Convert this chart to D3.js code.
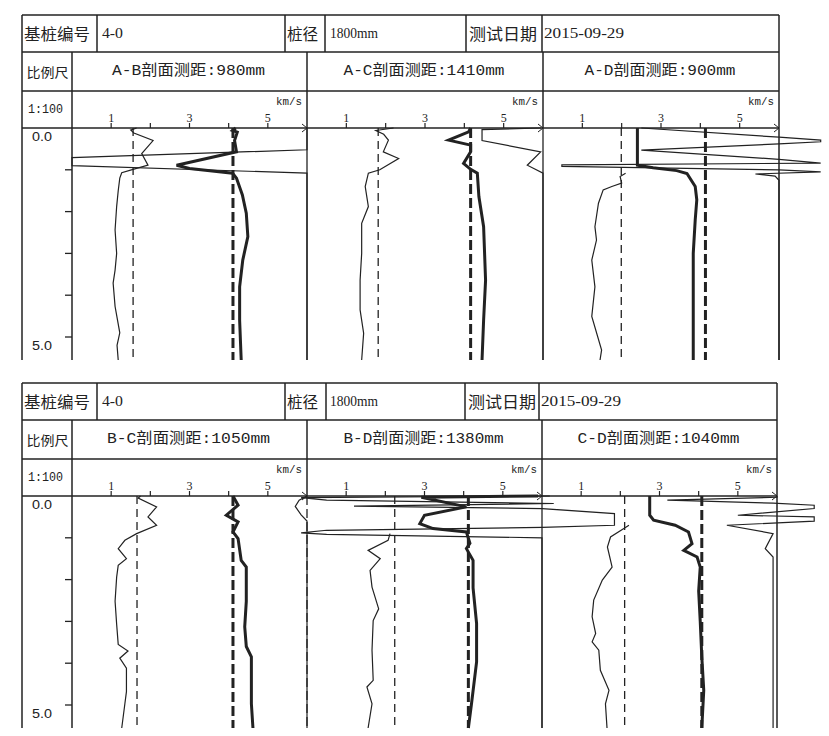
<!DOCTYPE html>
<html><head><meta charset="utf-8">
<script src="https://cdn.jsdelivr.net/npm/d3@7"></script>
<style>body{margin:0;background:#fff}svg{display:block}</style>
</head><body><svg id="c" width="829" height="736"></svg>
<script>
// ---------- data ----------
const headerLabels = ["基桩编号", "4-0", "桩径", "1800mm", "测试日期", "2015-09-29"];
const scaleLabels = ["比例尺", "1:100"];
const unitLabel = "km/s";
const panelTitles = [
  ["A-B剖面测距:980mm", "A-C剖面测距:1410mm", "A-D剖面测距:900mm"],
  ["B-C剖面测距:1050mm", "B-D剖面测距:1380mm", "C-D剖面测距:1040mm"]
];
const xTicks = [1, 2, 3, 4, 5];
const xTickLabels = ["1", "", "3", "", "5"];
const depthTicks = [0, 1, 2, 3, 4, 5];
const depthLabels = {0: "0.0", 5: "5.0"};

// critical values (km/s scale) per panel
const ampCrit = [1.56, 1.81, 1.99, 1.66, 2.24, 2.11];
const velCrit = [4.11, 4.16, 4.13, 4.11, 4.12, 4.08];

// [depth m, value]
const ampAB = [[0,1.65],[0.05,1.5],[0.12,1.58],[0.3,2.07],[0.61,1.78],[0.89,1.94],[0.99,1.56],[1.07,1.27],[1.2,1.22],[1.5,1.18],[1.88,1.14],[2.44,1.1],[3.0,1.14],[3.4,1.1],[3.71,1.05],[4.27,1.1],[4.9,1.22],[5.2,1.15],[5.55,1.18]];
const velAB = [[0,4.18],[0.06,4.1],[0.1,4.22],[0.3,4.15],[0.57,4.2],[0.89,2.67],[0.97,3.0],[1.08,4.1],[1.2,4.2],[1.6,4.35],[2.04,4.45],[2.6,4.49],[3.16,4.36],[3.8,4.28],[4.6,4.28],[5.55,4.32]];
const psdAB = [[0,6],[0.52,6],[0.71,0],[0.9,0],[1.08,6],[5.55,6]];

const ampAC = [[0,2.2],[0.06,1.75],[0.15,1.95],[0.29,2.07],[0.57,1.94],[0.73,2.33],[1.0,1.85],[1.08,1.56],[1.4,1.48],[1.88,1.56],[2.28,1.39],[3.0,1.39],[3.64,1.35],[4.35,1.35],[4.91,1.44],[5.55,1.39]];
const velAC = [[0,4.16],[0.09,4.11],[0.29,3.6],[0.41,4.16],[0.57,4.16],[0.85,3.98],[0.99,4.16],[1.08,4.33],[1.64,4.37],[2.36,4.49],[3.64,4.54],[4.6,4.49],[5.55,4.45]];
const psdAC = [[0,5.95],[0.04,4.45],[0.3,4.45],[0.57,5.94],[0.89,5.6],[1.08,6],[5.55,6]];

const ampAD = [[1.08,2.1],[1.16,1.96],[1.32,2.0],[1.4,1.75],[1.48,1.53],[1.8,1.41],[2.36,1.32],[2.68,1.36],[3.16,1.24],[3.8,1.32],[4.51,1.24],[5.31,1.49],[5.55,1.45]];
const velAD = [[0,2.4],[0.89,2.4],[0.95,2.8],[1.02,3.4],[1.09,3.66],[1.4,3.87],[1.72,3.91],[2.2,3.87],[3.0,3.82],[5.55,3.82]];
const psdAD = [[0,2.5],[0.22,6],[0.29,7.06],[0.33,7.06],[0.38,6],[0.53,2.5],[0.75,6],[0.84,7.06],[0.88,0.48],[0.92,0.48],[1.0,6],[1.05,7.06],[1.1,5.4],[1.15,5.9],[1.25,6],[5.55,6]];

const ampBC = [[0,1.75],[0.05,1.69],[0.26,2.16],[0.5,1.94],[0.7,2.16],[0.9,1.65],[1.06,1.35],[1.26,1.18],[1.5,1.39],[1.66,1.18],[1.94,1.14],[2.52,1.1],[3.07,1.14],[3.55,1.18],[3.71,1.43],[3.88,1.22],[4.12,1.39],[4.68,1.39],[4.97,1.35],[5.55,1.27]];
const velBC = [[0,4.11],[0.22,4.24],[0.46,3.94],[0.62,4.24],[0.86,4.11],[1.02,4.24],[1.54,4.32],[1.7,4.45],[2.52,4.45],[3.13,4.41],[3.6,4.45],[3.85,4.58],[4.97,4.58],[5.55,4.62]];
const psdBC = [[0,6],[0.1,5.8],[0.25,5.7],[0.45,5.85],[0.6,6],[5.55,6]];

const ampBD = [[0.9,2.12],[1.06,2.07],[1.3,1.56],[1.5,1.87],[1.78,1.61],[2.18,1.66],[2.7,1.83],[2.98,1.69],[3.69,1.66],[4.41,1.69],[4.57,1.53],[4.97,1.66],[5.55,1.56]];
const velBD = [[0,5.9],[0.03,2.92],[0.26,4.07],[0.46,3.0],[0.66,2.88],[0.78,3.22],[0.86,4.07],[1.13,4.16],[1.26,4.07],[1.54,4.24],[2.2,4.24],[3.05,4.33],[3.97,4.33],[4.97,4.2],[5.55,4.12]];
const psdBD = [[0,6.2],[0.04,-0.15],[0.1,0.5],[0.18,6.3],[0.24,1.2],[0.3,6.0],[0.42,7.85],[0.7,7.85],[0.75,6.0],[0.82,0.5],[0.88,-0.15],[0.92,0.5],[1.0,6.0],[5.55,6.0]];

const ampCD = [[0.7,2.22],[0.78,2.09],[0.98,1.75],[1.22,1.67],[1.7,1.79],[2.01,1.54],[2.49,1.32],[2.89,1.28],[3.29,1.37],[3.49,1.28],[3.69,1.45],[4.17,1.49],[4.65,1.71],[4.97,1.62],[5.55,1.66]];
const velCD = [[0,2.75],[0.46,2.75],[0.58,2.85],[0.7,3.4],[0.86,3.74],[1.14,3.83],[1.3,3.62],[1.46,3.96],[1.7,4.04],[2.27,4.0],[3.0,4.04],[3.85,4.08],[4.65,4.13],[5.55,4.08]];
const psdCD = [[0,6],[0.03,6],[0.1,3.2],[0.17,5.9],[0.22,6.95],[0.3,6.95],[0.46,5.0],[0.5,6.95],[0.6,6.95],[0.7,4.72],[0.9,5.9],[1.26,5.7],[1.46,5.9],[5.55,5.9]];

const ampSeries = [ampAB, ampAC, ampAD, ampBC, ampBD, ampCD];
const velSeries = [velAB, velAC, velAD, velBC, velBD, velCD];
const psdSeries = [psdAB, psdAC, psdAD, psdBC, psdBD, psdCD];

// ---------- layout ----------
const svg = d3.select("#c");
const ink = "#222";
const boxL = 22, colDiv = 72;
const blocks = [
  {top: 15, edges: [72, 307, 543, 779], divs: [97, 285, 325, 466, 542]},
  {top: 383, edges: [72, 307, 542, 777], divs: [97, 285, 326, 465, 539]}
];
const row1 = 37, row2 = 76, row3 = 113, plotBottom = 345;
const latin = "'Liberation Mono', 'Noto Sans CJK SC', monospace";
const serif = "'Liberation Serif', 'Noto Sans CJK SC', serif";
const cjk = "'Noto Sans CJK SC', sans-serif";

function hline(g, x1, x2, y, w) {
  g.append("line").attr("x1", x1).attr("x2", x2).attr("y1", y).attr("y2", y)
    .attr("stroke", ink).attr("stroke-width", w || 1.5);
}
function vline(g, x, y1, y2, w, dash) {
  const l = g.append("line").attr("x1", x).attr("x2", x).attr("y1", y1).attr("y2", y2)
    .attr("stroke", ink).attr("stroke-width", w || 1.5);
  if (dash) l.attr("stroke-dasharray", dash);
}
function txt(g, s, x, y, opt) {
  const t = g.append("text").attr("x", x).attr("y", y).text(s)
    .attr("fill", ink).attr("dominant-baseline", "central")
    .attr("font-family", opt.family || latin).attr("font-size", opt.size || 13);
  if (opt.anchor) t.attr("text-anchor", opt.anchor);
  if (opt.len) t.attr("textLength", opt.len).attr("lengthAdjust", "spacingAndGlyphs");
  return t;
}

const headerPos = [
  {dx: 24, len: 66, fam: cjk, size: 16},
  {dx: 102, len: 21, fam: serif, size: 14},
  {dx: 287, len: 31, fam: cjk, size: 16},
  {dx: 330, len: 48, fam: serif, size: 14},
  {dx: 469, len: 68, fam: cjk, size: 16},
  {dx: 543, len: 80, fam: serif, size: 14}
];
const titleLens = [[153, 161, 151], [163, 160, 162]];

blocks.forEach((blk, b) => {
  const top = blk.top, edges = blk.edges, boxR = edges[3];
  const g = svg.append("g");
  const axisY = top + row3;
  const bottom = top + plotBottom;

  // table frame
  hline(g, boxL, boxR, top);
  hline(g, boxL, boxR, top + row1);
  hline(g, boxL, boxR, top + row2);
  hline(g, boxL, boxR, axisY);
  vline(g, boxL, top, bottom);
  vline(g, boxR, top, bottom);
  blk.divs.forEach(x => vline(g, x, top, top + row1));
  vline(g, colDiv, top + row1, bottom);
  vline(g, edges[1], top + row1, axisY);
  vline(g, edges[2], top + row1, axisY);

  // header texts
  headerLabels.forEach((s, i) => {
    const p = headerPos[i];
    const xx = i === 5 ? blk.divs[4] + 2 : (i === 4 ? blk.divs[3] + 3 : p.dx);
    txt(g, s, xx, top + 18, {family: p.fam, size: p.size, len: p.len});
  });
  txt(g, scaleLabels[0], 26.5, top + 56.5, {family: cjk, size: 13, len: 42});
  txt(g, scaleLabels[1], 28, top + 95, {family: latin, size: 12, len: 35});

  // depth scale
  const y = d3.scaleLinear().domain([0, 5]).range([axisY, axisY + 209]);
  depthTicks.forEach(d => {
    if (d > 0) hline(g, colDiv - 7, colDiv, y(d), 1.3);
    if (depthLabels[d] !== undefined)
      txt(g, depthLabels[d], 32, y(d) + 8.5, {family: "'Liberation Sans', sans-serif", size: 12, len: 20});
  });

  for (let p = 0; p < 3; p++) {
    const k = b * 3 + p;
    const L = edges[p], R = edges[p + 1];
    const x = d3.scaleLinear().domain([0, 6]).range([L, R]);

    // panel title
    txt(g, panelTitles[b][p], (L + R) / 2 - 1, top + 56.5,
      {family: latin, size: 15, len: titleLens[b][p], anchor: "middle"});

    // unit + axis ticks
    txt(g, unitLabel, R - 5, top + 87, {family: latin, size: 10, anchor: "end", len: 26});
    xTicks.forEach((v, i) => {
      g.append("line").attr("x1", x(v)).attr("x2", x(v)).attr("y1", axisY - 5).attr("y2", axisY)
        .attr("stroke", ink).attr("stroke-width", 1.2);
      if (xTickLabels[i]) txt(g, xTickLabels[i], x(v), axisY - 10, {family: "'Liberation Serif', serif", size: 12, anchor: "middle"});
    });
    // arrow
    g.append("path").attr("d", `M${R - 5},${axisY - 4}L${R},${axisY}L${R - 5},${axisY + 4}`)
      .attr("fill", "none").attr("stroke", ink).attr("stroke-width", 1);

    // plot-area separator
    if (p > 0) vline(g, L, axisY, bottom, 1.3, (b === 1 && p === 1) ? "9,4" : null);

    const line = d3.line().x(d => x(d[1])).y(d => y(d[0]));

    // critical lines
    g.append("line").attr("x1", x(ampCrit[k])).attr("x2", x(ampCrit[k]))
      .attr("y1", axisY).attr("y2", bottom)
      .attr("stroke", ink).attr("stroke-width", 1.3).attr("stroke-dasharray", "8,5");
    g.append("line").attr("x1", x(velCrit[k])).attr("x2", x(velCrit[k]))
      .attr("y1", axisY).attr("y2", bottom)
      .attr("stroke", ink).attr("stroke-width", 3).attr("stroke-dasharray", "10,4");

    // curves
    g.append("path").datum(psdSeries[k]).attr("d", line)
      .attr("fill", "none").attr("stroke", ink).attr("stroke-width", 1.2);
    g.append("path").datum(ampSeries[k]).attr("d", line)
      .attr("fill", "none").attr("stroke", ink).attr("stroke-width", 1.2);
    g.append("path").datum(velSeries[k]).attr("d", line)
      .attr("fill", "none").attr("stroke", ink).attr("stroke-width", 3);
  }
});
</script></body></html>
